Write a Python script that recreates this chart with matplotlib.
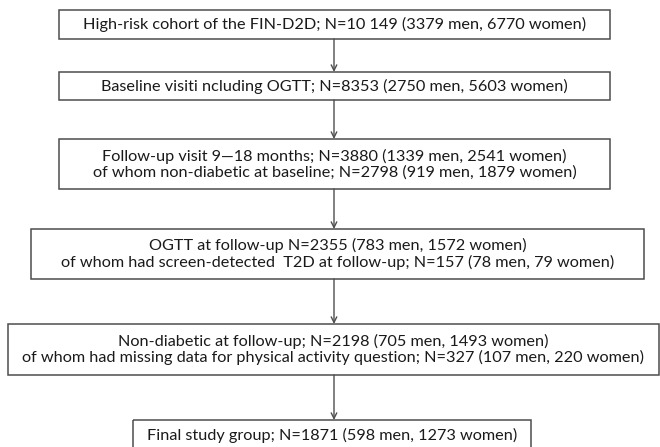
import matplotlib
matplotlib.use("Agg")
import matplotlib.pyplot as plt
from matplotlib.patches import Rectangle

# box texts (top to bottom)
box_text = [
    "High-risk cohort of the FIN-D2D; N=10 149 (3379 men, 6770 women)",
    "Baseline visiti ncluding OGTT; N=8353 (2750 men, 5603 women)",
    "Follow-up visit 9\u201418 months; N=3880 (1339 men, 2541 women)\n"
    "of whom non-diabetic at baseline; N=2798 (919 men, 1879 women)",
    "OGTT at follow-up N=2355 (783 men, 1572 women)\n"
    "of whom had screen-detected  T2D at follow-up; N=157 (78 men, 79 women)",
    "Non-diabetic at follow-up; N=2198 (705 men, 1493 women)\n"
    "of whom had missing data for physical activity question; N=327 (107 men, 220 women)",
    "Final study group; N=1871 (598 men, 1273 women)",
]

# box layout in pixel units: (left, right, top, bottom)
box_pos = [
    (59, 610, 10, 39),
    (59, 610, 72, 100),
    (59, 610, 139, 189),
    (31, 644, 229, 279),
    (8, 659, 324, 375),
    (133, 531, 420, 452),
]

W, H = 660, 447
fig = plt.figure(figsize=(W / 100, H / 100), dpi=100)
ax = fig.add_axes([0, 0, 1, 1])
ax.set_xlim(0, W)
ax.set_ylim(H, 0)
ax.axis("off")

edge = "#4d4d4d"
arrow_x = 334

for i, (txt, (l, r, t, b)) in enumerate(zip(box_text, box_pos)):
    ax.add_patch(Rectangle((l, t), r - l, b - t, fill=False, edgecolor=edge, lw=1.1))
    cy = (t + b) / 2 if i < 5 else t + 15
    ax.text((l + r) / 2, cy, txt, ha="center", va="center", fontsize=11.7,
            family="Lato", color="#1a1a1a", linespacing=1.12, multialignment="center")
    if i < len(box_pos) - 1:
        nt = box_pos[i + 1][2]
        ax.annotate("", xy=(arrow_x, nt), xytext=(arrow_x, b),
                    arrowprops=dict(arrowstyle="->", color=edge, lw=1.0,
                                    shrinkA=0, shrinkB=0, mutation_scale=10))

fig.savefig("out.png", dpi=100)
